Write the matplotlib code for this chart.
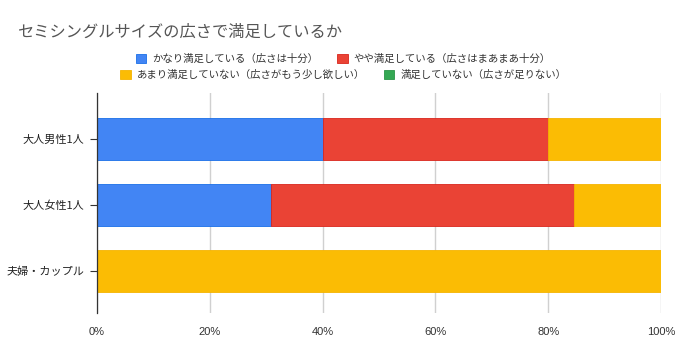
import matplotlib
matplotlib.use('Agg')
import matplotlib.pyplot as plt
import numpy as np

plt.rcParams['font.family'] = ['Noto Sans CJK JP', 'DejaVu Sans']

title = 'セミシングルサイズの広さで満足しているか'
groups = ['大人男性1人', '大人女性1人', '夫婦・カップル']
series = ['かなり満足している（広さは十分）',
          'やや満足している（広さはまあまあ十分）',
          'あまり満足していない（広さがもう少し欲しい）',
          '満足していない（広さが足りない）']
very = [40.0, 30.8, 0.0]
some = [40.0, 53.8, 0.0]
notmuch = [20.0, 15.4, 100.0]
notat = [0.0, 0.0, 0.0]
colors = ['#4285F4', '#EA4335', '#FBBC04', '#34A853']
edges = ['#1a6fe8', '#d9261c', '#f5b400', '#2a9446']

fig = plt.figure(figsize=(6.8, 3.53), dpi=100)
ax = fig.add_axes([0.1426, 0.1133, 0.8294, 0.6232])

y = np.arange(len(groups))
left = np.zeros(len(groups))
handles = []
for vals, name, c, ec in zip([very, some, notmuch, notat], series, colors, edges):
    h = ax.barh(y, vals, left=left, height=0.64, color=c, edgecolor=ec,
                linewidth=0.6, label=name, zorder=3)
    handles.append(h)
    left = left + np.array(vals)

ax.set_xlim(0, 100)
ax.set_ylim(2.64, -0.70)
ax.set_yticks(y)
ax.set_yticklabels(groups, fontsize=8, color='#222222')
ax.set_xticks(np.arange(0, 101, 20))
ax.set_xticklabels(['%d%%' % v for v in range(0, 101, 20)], fontsize=8, color='#333333',
                   family=['Liberation Sans', 'DejaVu Sans'])
ax.tick_params(axis='x', length=0, pad=10)
ax.tick_params(axis='y', length=5, width=0.8, color='#333333', pad=4)
ax.grid(axis='x', color='#d0d0d0', linewidth=1, zorder=0)
for s in ['top', 'right', 'bottom']:
    ax.spines[s].set_visible(False)
ax.spines['left'].set_color('#333333')
ax.spines['left'].set_linewidth(0.9)
ax.spines['left'].set_zorder(4)

fig.text(18 / 680, 1 - 32 / 353, title, fontsize=11.7, color='#555555', va='center', ha='left')

leg_kw = dict(frameon=False, ncol=2, fontsize=7.5, handlelength=1.0, handleheight=1.0,
              handletextpad=0.6, columnspacing=1.8, loc='center', labelcolor='#333333')
fig.legend(handles[:2], series[:2], bbox_to_anchor=(0.505, 1 - 59 / 353), **leg_kw)
fig.legend(handles[2:], series[2:], bbox_to_anchor=(0.505, 1 - 75 / 353), **leg_kw)

fig.savefig('out.png', dpi=100)
